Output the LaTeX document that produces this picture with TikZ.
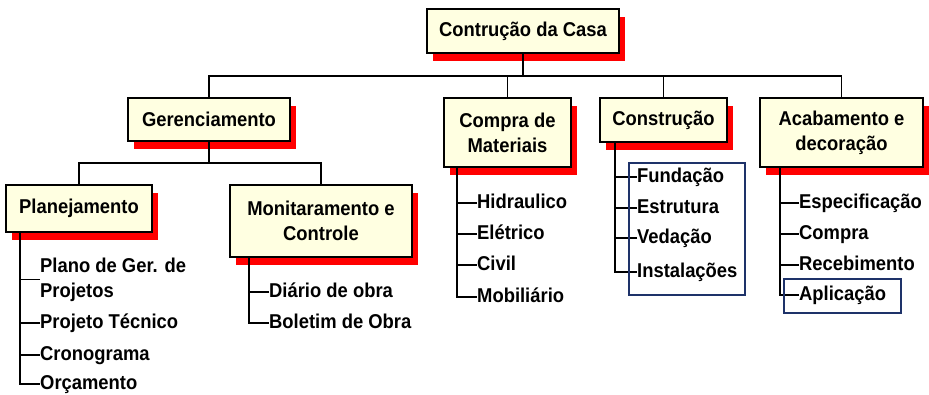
\documentclass[tikz,border=0pt]{standalone}
\usepackage{fontspec}
\setmainfont[FakeStretch=0.92]{Liberation Sans}
\usepackage{tikz}
\usetikzlibrary{positioning,fit,calc,shadows}
\definecolor{boxfill}{RGB}{255,255,225}
\definecolor{shadowred}{RGB}{255,0,0}
\definecolor{framenavy}{RGB}{30,50,105}

\begin{document}
\begin{tikzpicture}[x=1pt,y=-1pt,
        font=\fontsize{20}{25}\selectfont\bfseries,
        wbsbox/.style={draw=black, line width=2pt, fill=boxfill, align=center, inner sep=0pt,
            drop shadow={shadow xshift=6pt, shadow yshift=-8pt, fill=shadowred, opacity=1}},
        item/.style={anchor=west, inner sep=0pt, text height=15pt, text depth=4pt},
        itemtwo/.style={anchor=west, inner sep=0pt, align=left},
        link/.style={draw=black, line width=1.8pt},
        bluebox/.style={draw=framenavy, line width=1.8pt}]
        \useasboundingbox (0,0) rectangle (929,395);

        % main boxes
        \node[wbsbox, minimum width=192pt, minimum height=44pt] (casa) at (523,31) {Contrução da Casa};
        \node[wbsbox, minimum width=162pt, minimum height=43pt] (ger) at (209,119.5) {Gerenciamento};
        \node[wbsbox, minimum width=127pt, minimum height=69pt] (compra) at (507.5,132.5) {Compra de\\Materiais};
        \node[wbsbox, minimum width=127pt, minimum height=44pt] (constr) at (663.5,120) {Construção};
        \node[wbsbox, minimum width=163pt, minimum height=69pt] (acab) at (841.5,132.5) {Acabamento e\\decoração};
        \node[wbsbox, minimum width=146pt, minimum height=47pt] (plan) at (79,208.5) {Planejamento};
        \node[wbsbox, minimum width=182pt, minimum height=72pt] (monit) at (321,221) {Monitaramento e\\Controle};

        % tree lines
        \coordinate (bus) at (523,76);
        \coordinate (subbus) at (209,163);
        \draw[link] (casa.south) -- (bus);
        \draw[link] (ger.north) |- (bus) -| (acab.north);
        \draw[link] (compra.north) -- (compra.north |- bus);
        \draw[link] (constr.north) -- (constr.north |- bus);
        \draw[link] (ger.south) -- (subbus);
        \draw[link] (plan.north) |- (subbus) -| (monit.north);

        % Planejamento
        \coordinate (pspine) at ($(plan.south west)+(15,0)$);
        \node[itemtwo] (p1) at (40,279.5) {Plano de Ger. de\\Projetos};
        \node[item] (p2) at (40,323) {Projeto Técnico};
        \node[item] (p3) at (40,355) {Cronograma};
        \node[item] (p4) at (40,384) {Orçamento};
        \foreach \n in {p1,p2,p3} \draw[link] (\n.west) -- (\n.west -| pspine);
        \draw[link] (pspine) |- (p4.west);

        % Monitaramento
        \coordinate (mspine) at ($(monit.south west)+(20,0)$);
        \node[item] (m1) at (269,292) {Diário de obra};
        \node[item] (m2) at (269,323) {Boletim de Obra};
        \draw[link] (m1.west) -- (m1.west -| mspine);
        \draw[link] (mspine) |- (m2.west);

        % Compra de Materiais
        \coordinate (cspine) at ($(compra.south west)+(14,0)$);
        \node[item] (c1) at (477,203) {Hidraulico};
        \node[item] (c2) at (477,234) {Elétrico};
        \node[item] (c3) at (477,265) {Civil};
        \node[item] (c4) at (477,297) {Mobiliário};
        \foreach \n in {c1,c2,c3} \draw[link] (\n.west) -- (\n.west -| cspine);
        \draw[link] (cspine) |- (c4.west);

        % Construcao
        \coordinate (kspine) at ($(constr.south west)+(16,0)$);
        \node[item] (k1) at (637,177) {Fundação};
        \node[item] (k2) at (637,208) {Estrutura};
        \node[item] (k3) at (637,238) {Vedação};
        \node[item] (k4) at (637,272) {Instalações};
        \foreach \n in {k1,k2,k3} \draw[link] (\n.west) -- (\n.west -| kspine);
        \draw[link] (kspine) |- (k4.west);
        \draw[bluebox] (629,163) rectangle (745,295);

        % Acabamento
        \coordinate (aspine) at ($(acab.south west)+(21,0)$);
        \node[item] (a1) at (799,203) {Especificação};
        \node[item] (a2) at (799,234) {Compra};
        \node[item] (a3) at (799,265) {Recebimento};
        \node[item] (a4) at (799,295) {Aplicação};
        \foreach \n in {a1,a2,a3} \draw[link] (\n.west) -- (\n.west -| aspine);
        \draw[link] (aspine) |- (a4.west);
        \draw[bluebox] (784,279) rectangle (901,313);
\end{tikzpicture}
\end{document}
